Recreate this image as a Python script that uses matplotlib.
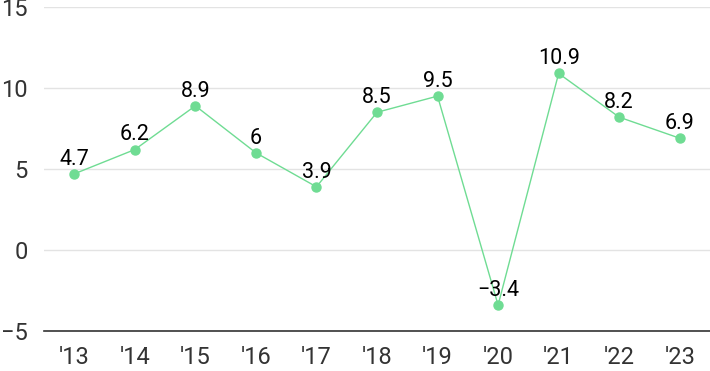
import matplotlib
matplotlib.use("Agg")
import matplotlib.pyplot as plt

years = ["'13", "'14", "'15", "'16", "'17", "'18", "'19", "'20", "'21", "'22", "'23"]
values = [4.7, 6.2, 8.9, 6, 3.9, 8.5, 9.5, -3.4, 10.9, 8.2, 6.9]
yticks = [-5, 0, 5, 10, 15]

plt.rcParams['font.family'] = ['Roboto', 'DejaVu Sans']

fig = plt.figure(figsize=(7.1, 3.71), dpi=100)
ax = fig.add_axes([44/710, 1-331/371, 1-44/710, (331-7)/371])

xs = list(range(len(values)))
ax.plot(xs, values, color='#6fdc93', lw=1, marker='o', ms=6.5, mec='#6fdc93', mfc='#6fdc93', zorder=3, clip_on=False)
for x, v in zip(xs, values):
    lab = f"{v:g}".replace('-', '\u2212')
    ax.annotate(lab, (x, v), xytext=(0, 3), textcoords='offset points', ha='center', va='bottom',
                fontsize=15.5, color='#000000', zorder=4)

ax.set_xlim(-0.5, 10.5)
ax.set_ylim(-5, 15)
ax.set_yticks(yticks)
ax.set_yticklabels([str(t).replace('-', '\u2212') for t in yticks])
ax.set_xticks(xs)
ax.set_xticklabels(years)
ax.tick_params(axis='both', length=0, labelsize=17, colors='#333333')
ax.tick_params(axis='y', pad=11.5)
ax.tick_params(axis='x', pad=11)
ax.grid(axis='y', color='#e3e3e3', lw=1)
ax.set_axisbelow(True)
for s in ['top', 'right', 'left']:
    ax.spines[s].set_visible(False)
ax.spines['bottom'].set_color('#333333')
ax.spines['bottom'].set_linewidth(1.2)

fig.savefig('out.png', dpi=100)
